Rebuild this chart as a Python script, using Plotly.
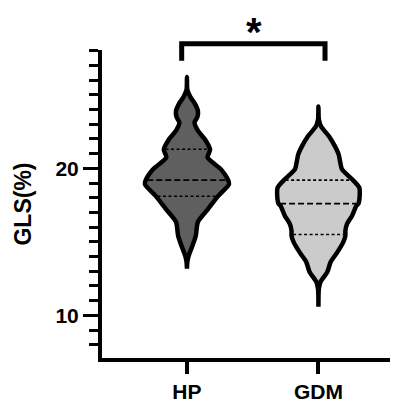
import numpy as np
import plotly.graph_objects as go

# ---------------- data ----------------
categories = ["HP", "GDM"]

# violin outline: GLS values and relative density (0-1)
hp_values = [26.22, 25.34, 24.86, 24.39, 23.92, 23.51, 23.11, 22.57, 21.96, 21.28, 20.74,
             19.93, 19.20, 18.92, 18.11, 17.23, 16.35, 15.41, 14.73, 14.05, 13.65, 13.18]
hp_density = [0.0, 0.01, 0.08, 0.19, 0.26, 0.25, 0.18, 0.26, 0.43, 0.55, 0.49,
               0.81, 0.98, 1.00, 0.74, 0.50, 0.26, 0.21, 0.13, 0.04, 0.01, 0.0]

gdm_values = [24.21, 23.31, 22.86, 22.18, 21.51, 20.95, 20.38, 19.93, 19.26, 18.69, 18.13,
              17.60, 17.45, 16.78, 16.22, 15.76, 15.43, 14.98, 14.30, 13.63, 12.95, 12.28,
              11.82, 10.59]
gdm_density = [0.0, 0.01, 0.06, 0.25, 0.39, 0.48, 0.52, 0.56, 0.80, 0.97, 0.98,
               0.95, 0.90, 0.80, 0.68, 0.64, 0.64, 0.59, 0.45, 0.29, 0.21, 0.05,
               0.01, 0.0]

# quartiles [Q1, median, Q3]
hp_quartiles = [18.1, 19.2, 21.3]
gdm_quartiles = [15.5, 17.6, 19.2]

y_tick_vals = [10, 20]
sig_label = "*"

# ---------------- style ----------------
fill_colors = ["#5f5f5f", "#cbcbcb"]
half_width = 0.32          # x units for density 1
outline_w = 4.5
xr = [-0.646, 1.605]
yr = [7.1, 28.05]
FONT = "Liberation Sans, Arial, sans-serif"

fig = go.Figure()

groups = [(hp_values, hp_density, hp_quartiles), (gdm_values, gdm_density, gdm_quartiles)]
for i, (vals, dens, qs) in enumerate(groups):
    v = np.array(vals)
    d = np.array(dens) * half_width
    xs = np.concatenate([i + d, (i - d)[::-1]])
    ys = np.concatenate([v, v[::-1]])
    fig.add_trace(go.Scatter(
        x=xs, y=ys, mode="lines", fill="toself", fillcolor=fill_colors[i],
        line=dict(color="black", width=outline_w, shape="spline", smoothing=0.7),
        hoverinfo="skip", showlegend=False))
    order = np.argsort(v)
    for k, q in enumerate(qs):
        w = np.interp(q, v[order], d[order]) - 0.012
        fig.add_trace(go.Scatter(
            x=[i - w, i + w], y=[q, q], mode="lines",
            line=dict(color="black", width=1.6,
                      dash="6px,3px" if k == 1 else "3px,2.5px"),
            hoverinfo="skip", showlegend=False))

# significance bracket (paper coords converted from data coords)
def px(x):
    return (x - xr[0]) / (xr[1] - xr[0])

def py(y):
    return (y - yr[0]) / (yr[1] - yr[0])

bx0, bx1, btop, bleg = -0.04, 1.05, 28.47, 27.32
fig.add_shape(type="path", xref="paper", yref="paper",
              path=f"M {px(bx0)},{py(bleg)} L {px(bx0)},{py(btop)} L {px(bx1)},{py(btop)} L {px(bx1)},{py(bleg)}",
              line=dict(color="black", width=5))
fig.add_annotation(x=px(0.51), y=py(29.27), xref="paper", yref="paper",
                   text=sig_label, showarrow=False,
                   font=dict(size=40, color="black", family=FONT, weight="bold"),
                   xanchor="center", yanchor="middle")

fig.update_layout(
    width=390, height=395,
    margin=dict(l=94, r=0, t=42, b=43, pad=0),
    plot_bgcolor="white", paper_bgcolor="white",
    font=dict(family=FONT, color="black", size=20, weight="bold"),
    showlegend=False,
    xaxis=dict(range=xr, tickvals=[0, 1], ticktext=categories, ticks="outside",
               ticklen=12, tickwidth=3.5, tickcolor="black", showline=True,
               linewidth=4, linecolor="black", showgrid=False, zeroline=False,
               tickfont=dict(size=21, family=FONT, weight="bold")),
    yaxis=dict(range=yr, tickvals=y_tick_vals, ticks="outside", ticklen=15,
               tickwidth=3, tickcolor="black", showline=True, linewidth=4,
               linecolor="black", showgrid=False, zeroline=False,
               tickfont=dict(size=21, family=FONT, weight="bold"),
               minor=dict(dtick=1, tick0=0, ticks="outside", ticklen=9,
                          tickwidth=3, tickcolor="black", showgrid=False)),
)
fig.update_yaxes(title_text="GLS(%)", title_standoff=18,
                 title_font=dict(size=23, family=FONT, weight="bold", color="black"))

fig.write_html("out.html")
